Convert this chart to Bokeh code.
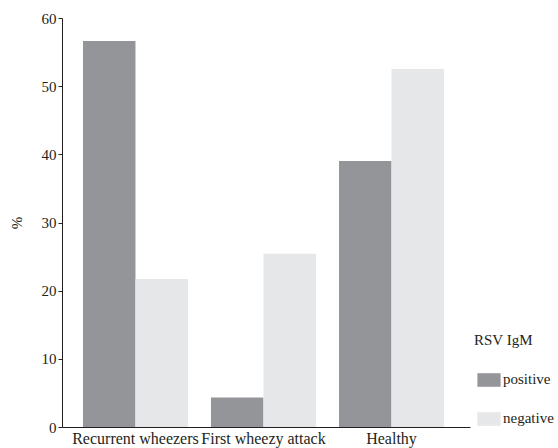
from bokeh.plotting import figure
from bokeh.models import Legend, LegendItem, FixedTicker, ColumnDataSource, Range1d
from bokeh.embed import file_html
from bokeh.resources import INLINE

groups = ["Recurrent wheezers", "First wheezy attack", "Healthy"]
positive = [56.7, 4.4, 39.1]
negative = [21.8, 25.5, 52.6]
y_ticks = [0, 10, 20, 30, 40, 50, 60]

FONT = "Liberation Serif"
xs = list(range(len(groups)))
src = ColumnDataSource(dict(
    xp=[x - 0.205 for x in xs], xn=[x + 0.205 for x in xs],
    pos=positive, neg=negative))

p = figure(frame_width=408, frame_height=409, output_backend="svg", toolbar_location=None,
           x_range=Range1d(-0.57, 2.617), y_range=Range1d(0, 60),
           min_border_left=62, min_border_top=18, min_border_right=0, min_border_bottom=0)

r1 = p.vbar(x="xp", top="pos", width=0.41, source=src, fill_color="#949599", line_color=None)
r2 = p.vbar(x="xn", top="neg", width=0.41, source=src, fill_color="#e6e7e8", line_color=None)

p.xgrid.visible = False
p.ygrid.visible = False
p.outline_line_color = None

p.xaxis.ticker = FixedTicker(ticks=xs)
p.xaxis.major_label_overrides = {i: g for i, g in enumerate(groups)}
p.xaxis.major_tick_line_color = None
p.xaxis.minor_tick_line_color = None
p.xaxis.major_tick_out = 0
p.xaxis.major_tick_in = 0
p.xaxis.minor_tick_out = 0
p.xaxis.minor_tick_in = 0
p.xaxis.major_label_standoff = 2
p.xaxis.major_label_text_font = FONT
p.xaxis.major_label_text_font_size = "16px"
p.xaxis.major_label_text_color = "#231f20"
p.xaxis.axis_line_color = "#231f20"

p.yaxis.ticker = FixedTicker(ticks=y_ticks)
p.yaxis.minor_tick_line_color = None
p.yaxis.minor_tick_out = 0
p.yaxis.minor_tick_in = 0
p.yaxis.major_tick_out = 4
p.yaxis.major_tick_in = 0
p.yaxis.major_tick_line_color = "#231f20"
p.yaxis.axis_line_color = "#231f20"
p.yaxis.major_label_standoff = 2
p.yaxis.major_label_text_font = FONT
p.yaxis.major_label_text_font_size = "15px"
p.yaxis.major_label_text_color = "#231f20"
p.yaxis.axis_label = "%"
p.yaxis.axis_label_text_font = FONT
p.yaxis.axis_label_text_font_style = "normal"
p.yaxis.axis_label_text_font_size = "15px"
p.yaxis.axis_label_text_color = "#231f20"
p.yaxis.axis_label_standoff = 14

legend = Legend(items=[LegendItem(label="positive", renderers=[r1]),
                       LegendItem(label="negative", renderers=[r2])],
                location=(4, 0), title="RSV IgM")
legend.title_text_font = FONT
legend.title_text_font_style = "normal"
legend.title_text_font_size = "15px"
legend.title_text_color = "#231f20"
legend.title_standoff = 22
legend.label_text_font = FONT
legend.label_text_font_size = "15px"
legend.label_text_color = "#231f20"
legend.glyph_width = 29
legend.glyph_height = 17
legend.label_standoff = 0
legend.spacing = 22
legend.padding = 0
legend.margin = 0
legend.border_line_color = None
legend.background_fill_alpha = 0
p.add_layout(legend, "right")

open("out.html", "w").write(file_html(p, INLINE))
